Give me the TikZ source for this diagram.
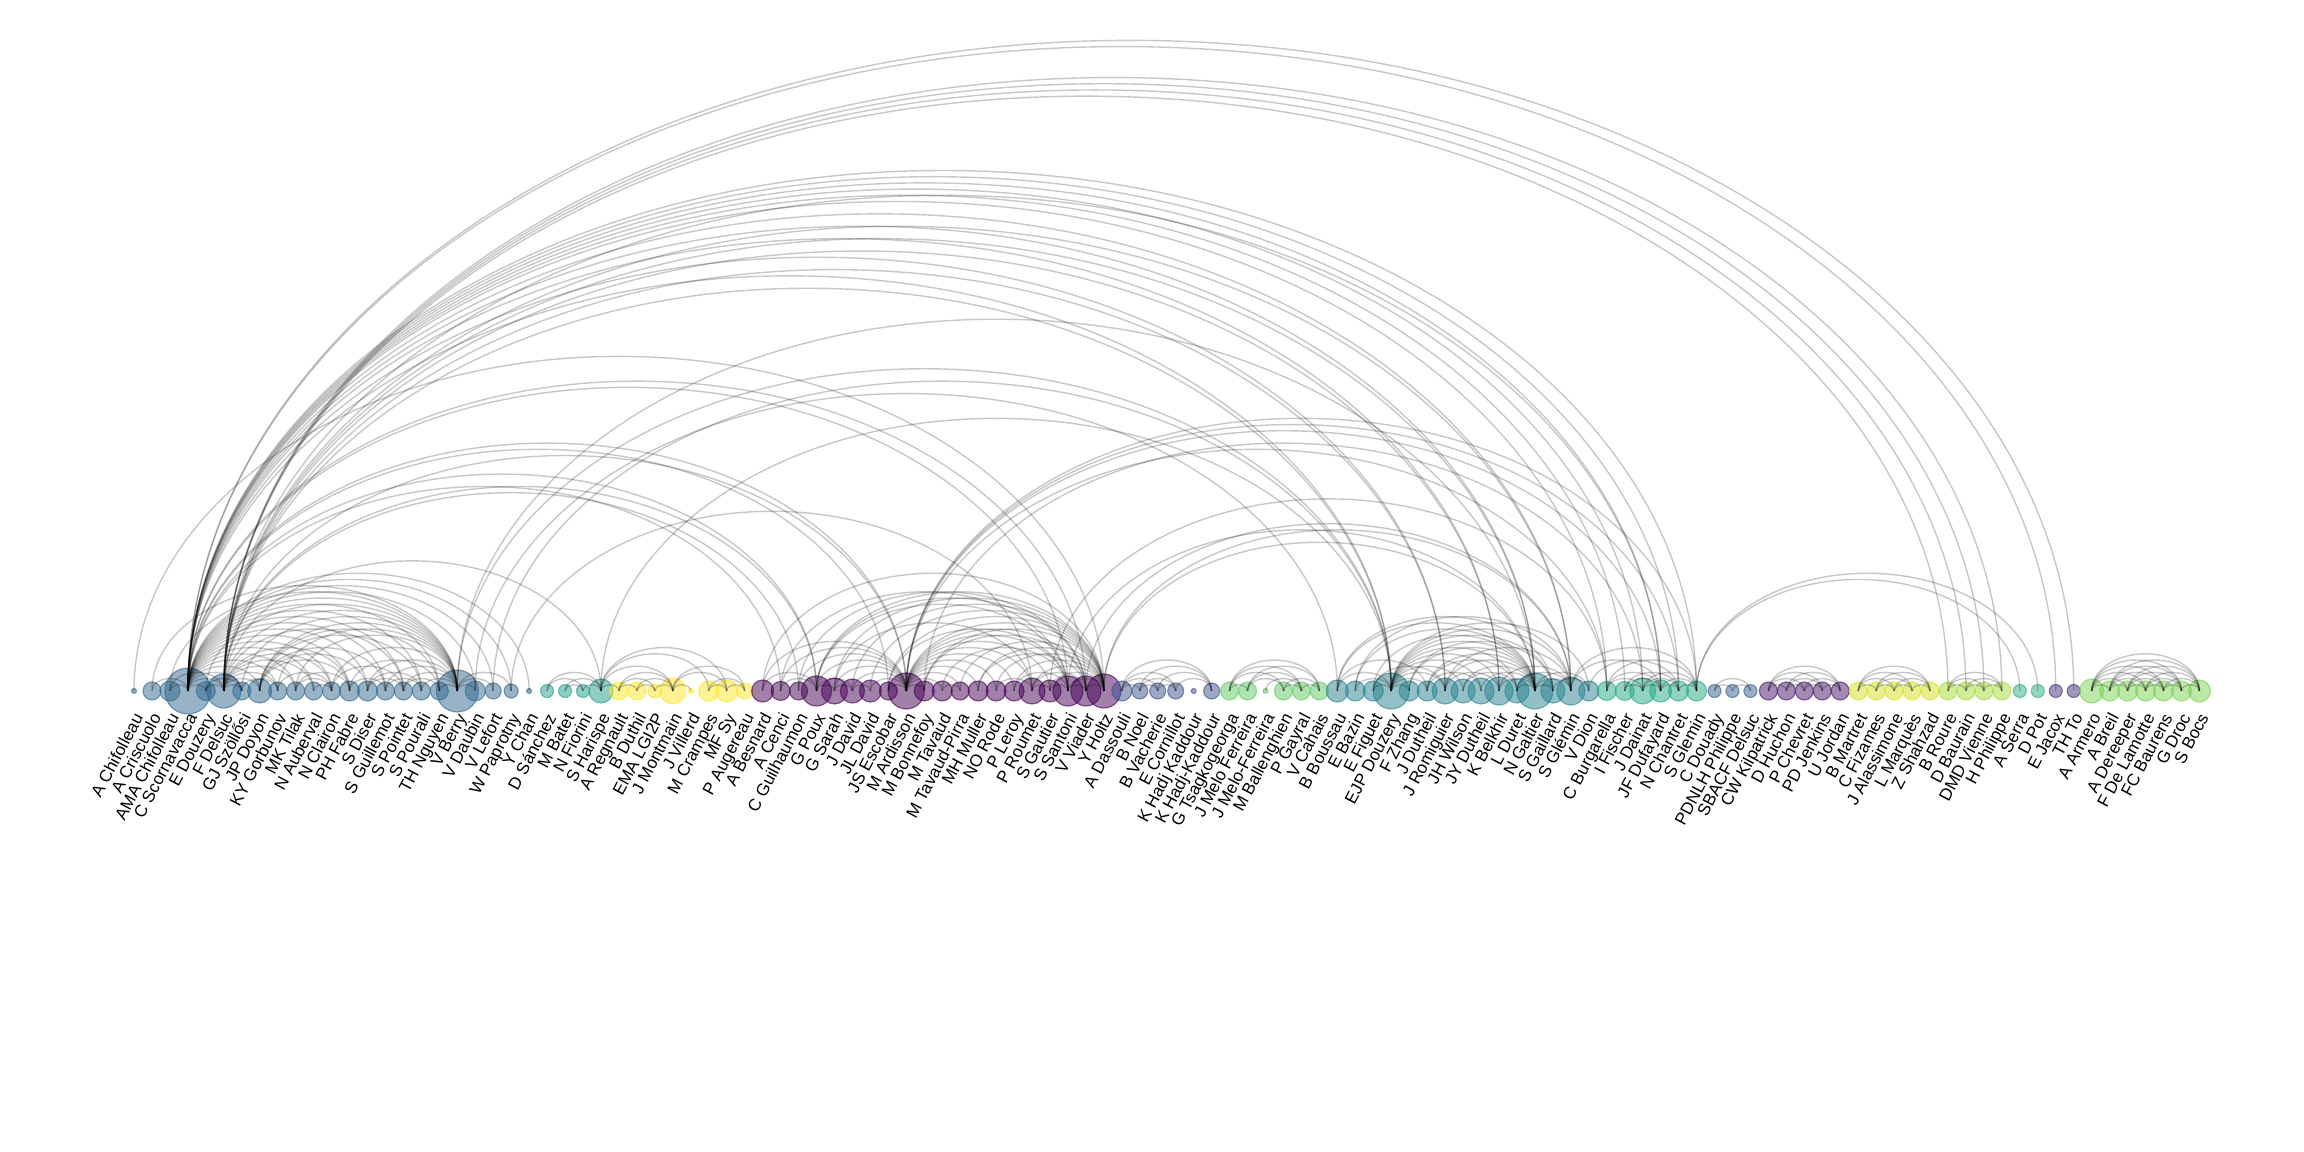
\documentclass[tikz,border=0pt]{standalone}
\usepackage{fontspec}
\setmainfont{Liberation Sans}
\usetikzlibrary{calc}
\definecolor{cA}{HTML}{31688E}
\definecolor{cB}{HTML}{1F9E89}
\definecolor{cC}{HTML}{FDE725}
\definecolor{cD}{HTML}{440154}
\definecolor{cE}{HTML}{3B528B}
\definecolor{cF}{HTML}{5EC962}
\definecolor{cG}{HTML}{26828E}
\definecolor{cH}{HTML}{22A884}
\definecolor{cI}{HTML}{355F8D}
\definecolor{cJ}{HTML}{481467}
\definecolor{cK}{HTML}{D2E21B}
\definecolor{cL}{HTML}{A5DB36}
\definecolor{cM}{HTML}{29AF7F}
\definecolor{cN}{HTML}{472D7B}
\definecolor{cO}{HTML}{7AD151}
\tikzset{
  author/.style={circle,inner sep=0pt,line width=0.35pt,fill opacity=0.5,draw opacity=0.6},
  lbl/.style={anchor=base east,rotate=62,inner sep=0pt,font=\fontsize{5.1}{6}\selectfont},
  link/.style={draw=black,draw opacity=0.22,line width=0.42pt},
}
\newcommand\linkarc[2]{%
  \draw[link] let \p1=(n#1.center), \p2=(n#2.center) in
    (\p1) arc[start angle=180,end angle=0,x radius={(\x2-\x1)/2},y radius={0.69*(\x2-\x1)/2}];}

\begin{document}
\begin{tikzpicture}[x=0.3pt,y=0.3pt]
  \useasboundingbox (0,0) rectangle (2304,1152);
  % authors, in order along the line
  \foreach \i/\r/\c/\t in {
    1/2.5/cA/A Chifolleau, 2/9/cA/A Criscuolo, 3/10/cA/AMA Chifolleau, 4/23/cA/C Scornavacca,
    5/9.5/cA/E Douzery, 6/17/cA/F Delsuc, 7/9/cA/GJ Szöllősi, 8/12/cA/JP Doyon,
    9/9/cA/KY Gorbunov, 10/9/cA/MK Tilak, 11/9/cA/N Auberval, 12/9/cA/N Clairon,
    13/10/cA/PH Fabre, 14/10/cA/S Diser, 15/9/cA/S Guillemot, 16/9/cA/S Pointet,
    17/9/cA/S Pourali, 18/9/cA/TH Nguyen, 19/21/cA/V Berry, 20/10/cA/V Daubin,
    21/8/cA/V Lefort, 22/7/cA/W Paprotny, 23/2.5/cA/Y Chan,
    24/6.5/cB/D Sánchez, 25/6.5/cB/M Batet, 26/6.5/cB/N Fiorini, 27/12/cB/S Harispe,
    28/9/cC/A Regnault, 29/9/cC/B Duthil, 30/7/cC/EMA LGI2P, 31/13/cC/J Montmain,
    32/2.5/cC/J Villerd, 33/10/cC/M Crampes, 34/11/cC/MF Sy, 35/8/cC/P Augereau,
    36/11/cD/A Besnard, 37/9.5/cD/A Cenci, 38/9/cD/C Guilhaumon, 39/15/cD/G Poux,
    40/13/cD/G Sarah, 41/12/cD/J David, 42/11/cD/JL David, 43/9/cD/JS Escobar,
    44/18/cD/M Ardisson, 45/10/cD/M Bonnefoy, 46/10/cD/M Tavaud, 47/9/cD/M Tavaud-Pirra,
    48/10/cD/MH Muller, 49/10/cD/NO Rode, 50/10/cD/P Leroy, 51/13/cD/P Roumet,
    52/11/cD/S Gautier, 53/15/cD/S Santoni, 54/15/cD/V Viader, 55/17/cD/Y Holtz,
    56/10/cE/A Dassouli, 57/8/cE/B Noel, 58/8/cE/B Vacherie, 59/8/cE/E Cornillot,
    60/2.5/cE/K Hadj Kaddour, 61/8/cE/K Hadj-Kaddour,
    62/9/cF/G Tsagkogeorga, 63/9/cF/J Melo Ferreira, 64/2.5/cF/J Melo-Ferreira,
    65/9/cF/M Ballenghien, 66/9/cF/P Gayral, 67/9/cF/V Cahais,
    68/11/cG/B Boussau, 69/10/cG/E Bazin, 70/10/cG/E Figuet, 71/18/cG/EJP Douzery,
    72/10/cG/F Zhang, 73/10/cG/J Dutheil, 74/13/cG/J Romiguier, 75/12/cG/JH Wilson,
    76/13/cG/JY Dutheil, 77/14/cG/K Belkhir, 78/12/cG/L Duret, 79/18/cG/N Galtier,
    80/12/cG/S Gaillard, 81/14/cG/S Glémin, 82/10/cG/V Dion,
    83/9.5/cH/C Burgarella, 84/9.5/cH/I Fischer, 85/13/cH/J Dainat, 86/11/cH/JF Dufayard,
    87/10/cH/N Chantret, 88/10/cH/S Glemin,
    89/6.5/cI/C Douady, 90/6.5/cI/PDNLH Philippe, 91/6.5/cI/SBACF Delsuc,
    92/9/cJ/CW Kilpatrick, 93/9/cJ/D Huchon, 94/9/cJ/P Chevret, 95/9/cJ/PD Jenkins, 96/9/cJ/U Jordan,
    97/9/cK/B Martret, 98/9/cK/C Fizames, 99/9/cK/J Alassimone, 100/9/cK/L Marquès, 101/9/cK/Z Shahzad,
    102/9/cL/B Roure, 103/9/cL/D Baurain, 104/9/cL/DMD Vienne, 105/9/cL/H Philippe,
    106/6.5/cM/A Serra, 107/6.5/cM/D Pot, 108/6.5/cN/E Jacox, 109/6.5/cN/TH To,
    110/12/cO/A Armero, 111/10/cO/A Breil, 112/10/cO/A Dereeper, 113/10/cO/F De Lamotte,
    114/10/cO/FC Baurens, 115/10/cO/G Droc, 116/11/cO/S Bocs}{
    \pgfmathsetmacro\xpos{134+(\i-1)*17.96}
    \pgfmathsetmacro\dia{0.6*\r}
    \node[author,minimum size=\dia pt,fill=\c,draw=\c] (n\i) at (\xpos,461) {};
    \node[lbl] (l\i) at (\xpos+10,435) {\t};
  }
  % co-author links
  \foreach \a/\b in {
    2/4,3/4,4/5,4/6,4/7,4/8,4/9,4/10,4/11,4/12,4/13,4/14,4/15,4/16,4/17,4/18,4/19,4/20,4/21,4/22,4/23,
    3/6,5/6,6/7,6/8,6/9,6/10,6/11,6/12,6/13,6/16,6/19,
    2/19,3/19,5/19,7/19,8/19,9/19,10/19,12/19,14/19,15/19,16/19,17/19,18/19,19/20,19/21,19/22,
    8/13,8/14,8/15,8/17,8/18,
    5/7,7/9,9/12,10/12,10/13,11/12,12/16,13/15,13/18,14/16,14/17,15/17,16/18,
    1/55,4/108,4/109,6/102,6/103,6/104,6/105,
    4/83,4/84,4/85,4/86,4/87,4/88,6/86,
    4/71,6/71,4/74,6/74,4/77,6/77,4/79,6/79,4/81,6/81,
    4/37,4/39,4/43,4/44,4/53,4/54,6/38,6/39,6/44,6/27,
    19/71,19/79,20/68,21/71,22/51,
    24/26,24/27,25/26,25/27,26/27,
    27/28,27/31,27/33,27/34,28/29,28/30,28/31,29/30,29/31,30/31,31/32,31/34,31/35,33/34,33/35,34/35,
    27/71,
    36/39,36/44,36/55,37/39,37/44,37/53,38/44,38/54,39/40,39/41,39/44,39/53,39/54,39/55,
    40/41,40/44,40/51,40/55,41/42,41/44,41/55,42/44,42/55,43/44,43/53,43/55,
    44/45,44/46,44/47,44/48,44/49,44/50,44/51,44/52,44/53,44/54,44/55,
    45/54,45/55,46/47,46/53,47/55,48/54,48/55,49/51,49/55,50/53,50/55,
    51/52,51/54,51/55,52/53,52/55,53/54,53/55,54/55,
    44/83,44/86,44/87,44/88,45/85,52/83,53/79,54/81,55/79,55/81,
    56/57,56/58,56/59,56/61,57/58,57/59,57/61,58/59,58/61,59/61,
    62/63,62/65,62/66,62/67,63/65,63/66,63/67,64/66,65/66,65/67,66/67,
    68/71,69/71,70/71,71/72,71/73,71/74,71/75,71/76,71/77,71/78,71/79,71/80,71/81,71/82,
    68/79,69/79,70/79,72/79,73/79,74/79,75/79,76/79,77/79,78/79,79/80,79/81,79/82,
    68/73,68/80,69/81,70/74,72/80,73/76,73/78,74/77,74/81,75/78,77/81,78/81,80/82,
    81/86,81/88,82/87,
    83/85,83/86,83/88,84/85,84/86,84/87,85/86,85/87,85/88,86/87,86/88,87/88,
    88/106,88/107,
    89/90,89/91,90/91,
    92/93,92/94,92/95,92/96,93/94,93/95,93/96,94/95,94/96,95/96,
    97/98,97/99,97/100,97/101,98/99,98/100,98/101,99/100,99/101,100/101,
    102/103,102/104,102/105,103/104,103/105,104/105,
    110/111,110/112,110/113,110/114,110/115,110/116,111/112,111/113,111/114,111/115,111/116,
    112/113,112/114,112/115,112/116,113/114,113/115,113/116,114/115,114/116,115/116}
    \linkarc{\a}{\b};
\end{tikzpicture}
\end{document}
